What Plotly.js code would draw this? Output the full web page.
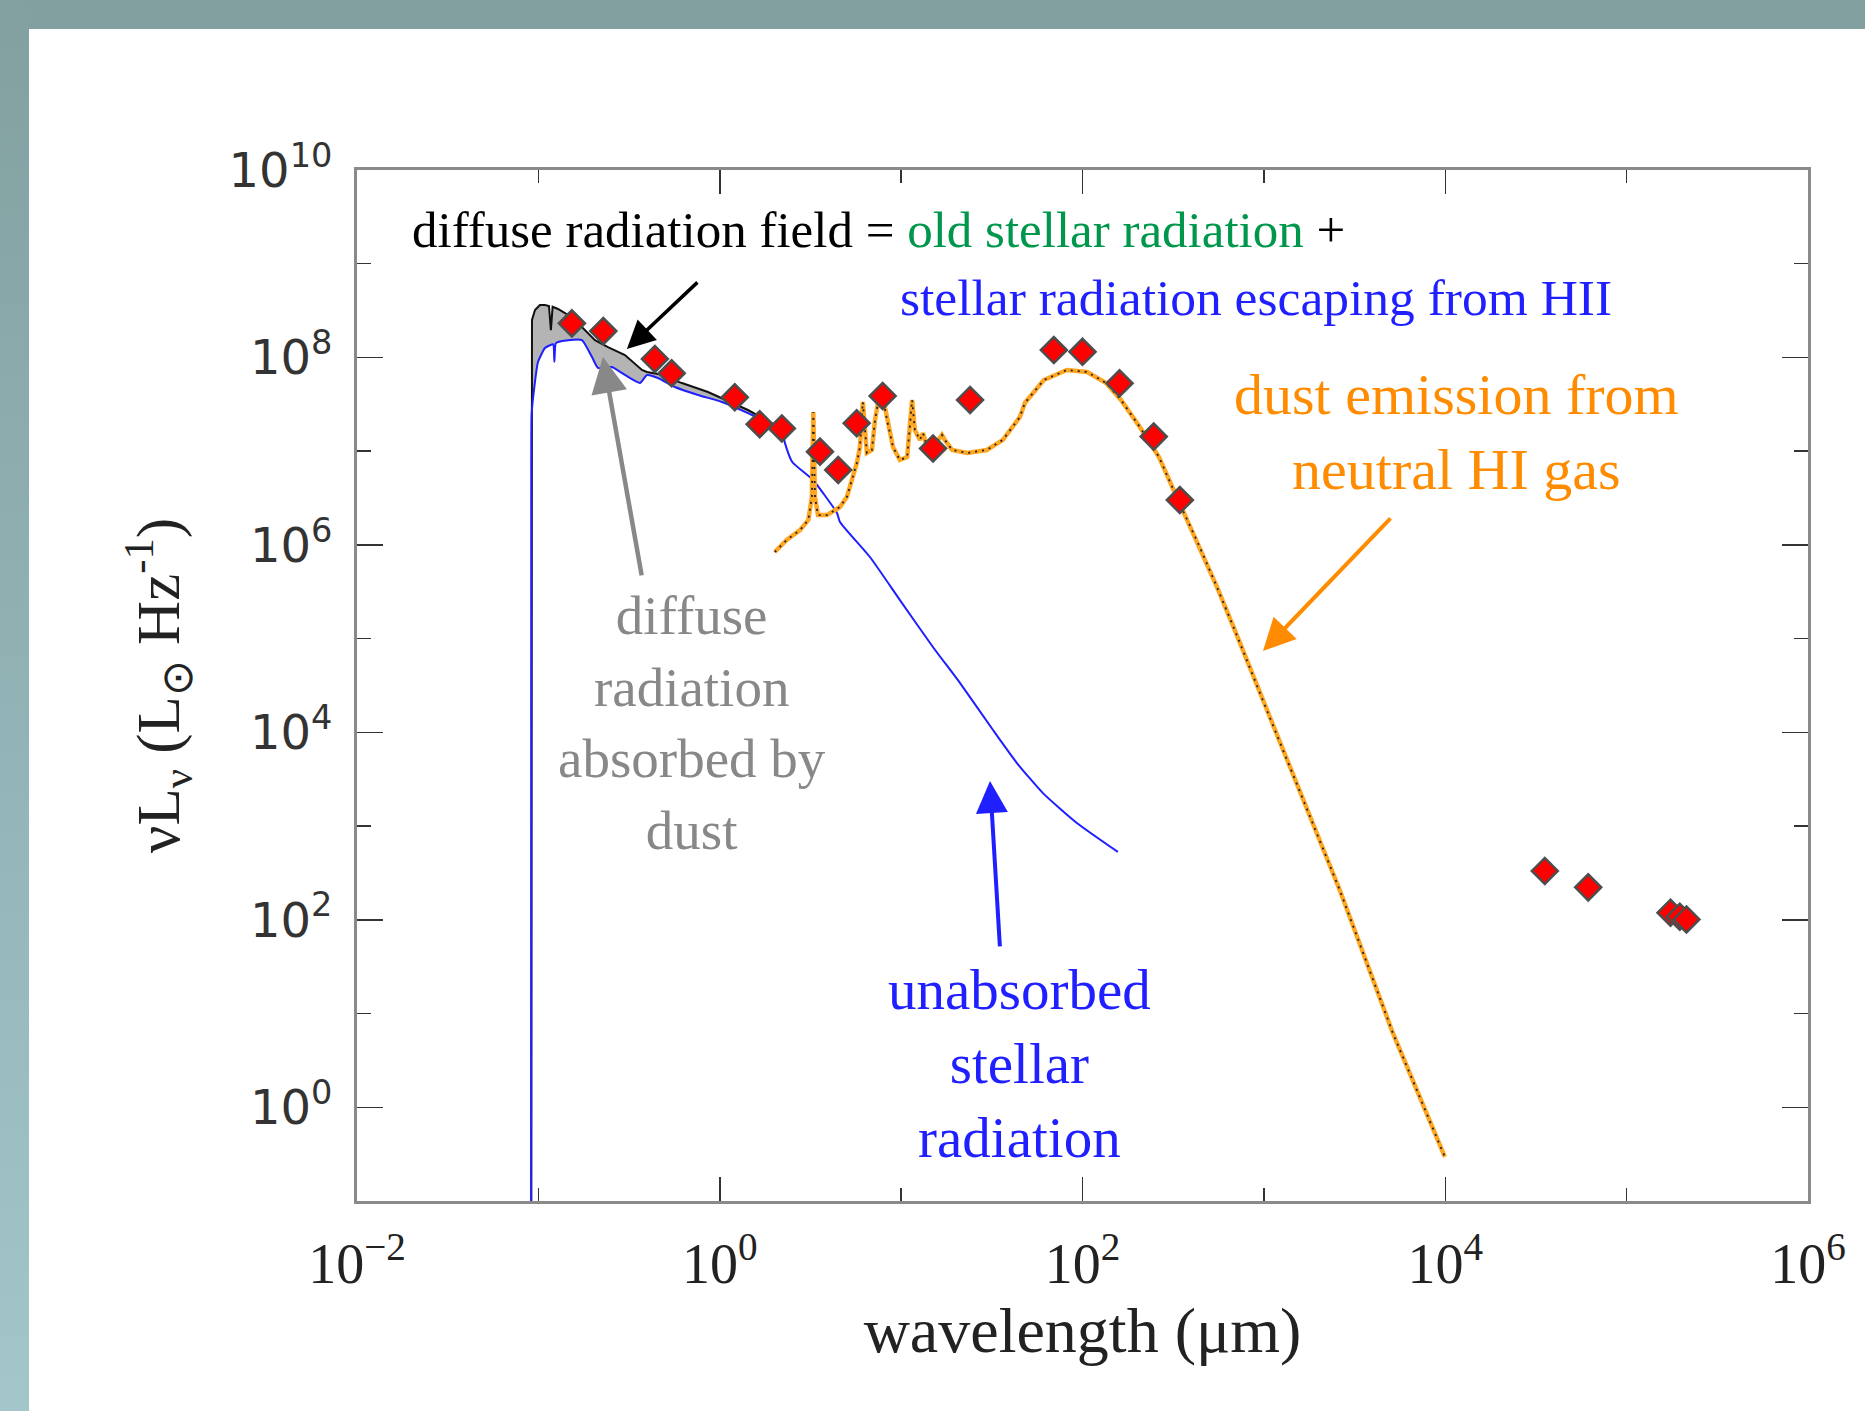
<!DOCTYPE html>
<html>
<head>
<meta charset="utf-8">
<script src="https://cdn.plot.ly/plotly-3.0.1.min.js"></script>
<style>
  html, body { margin: 0; padding: 0; background: #ffffff; }
  #wrap { position: relative; width: 1865px; height: 1411px; overflow: hidden; background: #ffffff; }
  #bandTop { position: absolute; left: 0; top: 0; width: 1865px; height: 29px; background: #82a0a0; }
  #bandLeft { position: absolute; left: 0; top: 0; width: 29px; height: 1411px;
              background: linear-gradient(#82a0a0, #a2c6ca); }
  #chart { position: absolute; left: 0; top: 0; width: 1865px; height: 1411px; }
</style>
</head>
<body>
<div id="wrap">
  <div id="bandTop"></div>
  <div id="bandLeft"></div>
  <div id="chart"></div>
</div>
<script>
// ---- unabsorbed stellar radiation (blue) ----
const wlBlue = [0.0912, 0.0914, 0.0918, 0.0946, 0.0995, 0.1087, 0.1159, 0.1207, 0.1225, 0.1245,
  0.1283, 0.1456, 0.1739, 0.1975, 0.2131, 0.2545, 0.3001, 0.3632, 0.3970, 0.4564,
  0.5662, 0.7585, 1.028, 1.430, 1.844, 2.203, 2.288, 2.51, 3.265, 4.43,
  4.60, 6.73, 9.85, 14.97, 21.1, 32.1, 43.5, 60.5, 93.1, 156.7];
const lumBlue = [1e-3, 3.2e6, 2.5e7, 4.50e7, 8.95e7, 1.26e8, 1.35e8, 1.38e8, 9.0e7, 1.41e8,
  1.46e8, 1.53e8, 1.53e8, 1.01e8, 7.73e7, 7.91e7, 6.50e7, 5.33e7, 6.50e7, 6.04e7,
  4.84e7, 3.98e7, 3.35e7, 2.55e7, 2.00e7, 1.68e7, 1.22e7, 7.67e6, 4.93e6, 2.19e6,
  1.76e6, 7.43e5, 2.58e5, 8.15e4, 3.37e4, 1.06e4, 4.71e3, 2.25e3, 1.08e3, 530];

// ---- total stellar radiation incl. diffuse field (black outline of gray area) ----
const wlTotal = [0.0912, 0.0915, 0.0922, 0.0958, 0.1020, 0.1087, 0.1144, 0.1172, 0.1198, 0.1283,
  0.1402, 0.1591, 0.1739, 0.2051, 0.2419, 0.3001, 0.3725, 0.3970, 0.4564, 0.6187,
  0.8608, 1.028, 1.430, 1.844, 2.203];
const lumTotal = [1e-3, 3.0e7, 2.51e8, 3.21e8, 3.63e8, 3.63e8, 3.54e8, 1.95e8, 3.47e8, 3.29e8,
  2.98e8, 2.51e8, 2.11e8, 1.53e8, 1.29e8, 1.06e8, 7.35e7, 7.0e7, 6.67e7, 5.33e7,
  4.28e7, 3.69e7, 2.75e7, 2.10e7, 1.68e7];

// ---- dust emission from neutral HI gas (orange) ----
const wlDust = [2.01, 2.34, 2.77, 3.08, 3.22, 3.28, 3.35, 3.48, 3.90, 4.60,
  5.02, 5.36, 5.70, 5.93, 6.15, 6.47, 6.90, 7.18, 7.45, 7.83,
  8.36, 9.02, 9.84, 10.8, 11.2, 11.5, 11.9, 12.7, 13.2, 13.9,
  14.8, 15.7, 16.8, 17.4, 19.1, 23.1, 29.7, 36.4, 45.2, 48.1,
  61.2, 82.0, 106, 135, 163, 207, 264, 336, 433, 551,
  701, 986, 2620, 5140, 9950];
const lumDust = [8.40e5, 1.13e6, 1.44e6, 1.85e6, 3.24e6, 2.62e7, 3.24e6, 2.08e6, 2.08e6, 2.54e6,
  3.24e6, 4.93e6, 7.48e6, 1.11e7, 3.35e7, 9.57e6, 1.03e7, 2.15e7, 3.27e7, 4.28e7,
  2.15e7, 1.11e7, 8.05e6, 8.67e6, 2.00e7, 3.52e7, 1.68e7, 1.32e7, 1.56e7, 1.11e7,
  9.57e6, 1.25e7, 1.49e7, 1.32e7, 1.03e7, 9.57e6, 1.03e7, 1.32e7, 2.32e7, 3.27e7,
  5.75e7, 7.35e7, 7.00e7, 5.33e7, 3.52e7, 1.81e7, 8.67e6, 3.01e6, 1.05e6, 3.56e5,
  1.15e5, 2.21e4, 208, 6.21, 0.295];

// ---- observed photometry (red diamonds) ----
const wlObs = [0.153, 0.228, 0.439, 0.543, 1.21, 1.66, 2.20, 3.57, 4.50, 5.69,
  7.91, 15.0, 24.0, 69.5, 100, 160, 247, 344, 35400, 61400, 174600, 196400, 213800];
const lumObs = [2.31e8, 1.91e8, 9.64e7, 6.78e7, 3.76e7, 1.94e7, 1.75e7, 9.89e6, 6.30e6, 1.99e7,
  3.88e7, 1.07e7, 3.52e7, 1.20e8, 1.15e8, 5.30e7, 1.43e7, 3.01e6, 332, 222, 119, 108, 101];

// ---- axis ticks ----
const xMajorVals = [0.01, 1, 100, 1e4, 1e6];
const xMajorText = ['10<sup>\u22122</sup>', '10<sup>0</sup>', '10<sup>2</sup>', '10<sup>4</sup>', '10<sup>6</sup>'];
const xMinorVals = [0.1, 10, 1000, 1e5];
const yMajorVals = [1, 100, 1e4, 1e6, 1e8, 1e10];
const yMajorText = ['10<sup>0</sup>', '10<sup>2</sup>', '10<sup>4</sup>', '10<sup>6</sup>', '10<sup>8</sup>', '10<sup>10</sup>'];
const yMinorVals = [10, 1000, 1e5, 1e7, 1e9];

// gray absorbed region: between total curve and the unabsorbed curve
const wlMax = wlTotal[wlTotal.length - 1];
const blueIdx = wlBlue.map((w, i) => i).filter(i => wlBlue[i] <= wlMax).reverse();
const fillX = wlTotal.concat(blueIdx.map(i => wlBlue[i]));
const fillY = lumTotal.concat(blueIdx.map(i => lumBlue[i]));

const serif = 'Liberation Serif, Times New Roman, serif';
const BLUE = '#1f1fff';
const ORANGE = '#ff8c00';
const GRAY = '#888888';
const GREEN = '#00964b';

const traces = [
  { x: fillX, y: fillY, mode: 'lines', fill: 'toself', fillcolor: '#b4b4b4',
    line: { width: 0, color: 'rgba(0,0,0,0)' }, hoverinfo: 'skip', showlegend: false },
  { x: wlTotal, y: lumTotal, mode: 'lines', line: { color: '#111111', width: 2 }, showlegend: false,
    name: 'diffuse + unabsorbed' },
  { x: wlBlue, y: lumBlue, mode: 'lines', line: { color: BLUE, width: 2, shape: 'spline', smoothing: 0.5 },
    showlegend: false, name: 'unabsorbed stellar radiation' },
  { x: wlDust, y: lumDust, mode: 'lines', line: { color: '#ffa722', width: 4.5 }, showlegend: false,
    name: 'dust emission' },
  { x: wlDust, y: lumDust, mode: 'lines', line: { color: '#222222', width: 1.8, dash: '2px,5px' },
    showlegend: false, hoverinfo: 'skip' },
  { x: wlObs, y: lumObs, mode: 'markers', showlegend: false, name: 'observed',
    marker: { symbol: 'diamond', size: 20, color: '#ff0000', line: { color: '#4d4d4d', width: 2.5 } } }
];

function arrow(x, y, ax, ay, color, width) {
  return { x: x, y: y, ax: ax, ay: ay, xref: 'x', yref: 'y', axref: 'x', ayref: 'y',
    text: '', showarrow: true, arrowhead: 2, arrowsize: 1.6, arrowwidth: width,
    arrowcolor: color, standoff: 0, startstandoff: 0 };
}

const annotations = [
  { x: -1.708, y: 9.36, xref: 'x', yref: 'y', xanchor: 'left', yanchor: 'middle', showarrow: false,
    text: 'diffuse radiation field = <span style="color:' + GREEN + '">old stellar radiation</span> +',
    font: { family: serif, size: 51, color: '#000000' } },
  { x: 0.982, y: 8.645, xref: 'x', yref: 'y', xanchor: 'left', yanchor: 'middle', showarrow: false,
    text: 'stellar radiation escaping from HII',
    font: { family: serif, size: 51.5, color: BLUE } },
  { x: 4.064, y: 7.205, xref: 'x', yref: 'y', xanchor: 'center', yanchor: 'middle', showarrow: false,
    text: 'dust emission from<br>neutral HI gas', align: 'center',
    font: { family: serif, size: 58, color: ORANGE } },
  { x: -0.153, y: 4.10, xref: 'x', yref: 'y', xanchor: 'center', yanchor: 'middle', showarrow: false,
    text: 'diffuse<br>radiation<br>absorbed by<br>dust', align: 'center',
    font: { family: serif, size: 55, color: GRAY } },
  { x: 1.655, y: 0.47, xref: 'x', yref: 'y', xanchor: 'center', yanchor: 'middle', showarrow: false,
    text: 'unabsorbed<br>stellar<br>radiation', align: 'center',
    font: { family: serif, size: 57, color: BLUE } },
  arrow(-0.512, 8.09, -0.115, 8.816, '#000000', 3.5),
  arrow(-0.644, 8.005, -0.429, 5.658, GRAY, 4.5),
  arrow(2.995, 4.868, 3.706, 6.298, ORANGE, 4),
  arrow(1.490, 3.481, 1.545, 1.70, BLUE, 4)
];

const layout = {
  width: 1865, height: 1411,
  paper_bgcolor: 'rgba(0,0,0,0)', plot_bgcolor: '#ffffff',
  margin: { l: 357, r: 57, t: 170, b: 210, pad: 0 },
  showlegend: false,
  xaxis: {
    type: 'log', range: [-2, 6], automargin: false,
    showgrid: false, zeroline: false,
    showline: true, linecolor: '#8a8a8a', linewidth: 3, mirror: 'ticks',
    ticks: 'inside', ticklen: 24, tickwidth: 1.5, tickcolor: '#333333',
    tickmode: 'array', tickvals: xMajorVals, ticktext: xMajorText,
    ticklabelstandoff: 12,
    tickfont: { family: serif, size: 56, color: '#222222' },
    minor: { tickmode: 'array', tickvals: xMinorVals, ticks: 'inside', ticklen: 13, tickwidth: 1.5,
             tickcolor: '#333333', showgrid: false },
    title: { text: 'wavelength (\u03bcm)', standoff: 10,
             font: { family: serif, size: 64, color: '#222222' } }
  },
  yaxis: {
    type: 'log', range: [-1, 10], automargin: false,
    showgrid: false, zeroline: false,
    showline: true, linecolor: '#8a8a8a', linewidth: 3, mirror: 'ticks',
    ticks: 'inside', ticklen: 26, tickwidth: 1.5, tickcolor: '#333333',
    tickmode: 'array', tickvals: yMajorVals, ticktext: yMajorText,
    ticklabelstandoff: 12,
    tickfont: { family: 'DejaVu Sans, sans-serif', size: 48, color: '#333333' },
    minor: { tickmode: 'array', tickvals: yMinorVals, ticks: 'inside', ticklen: 14, tickwidth: 1.5,
             tickcolor: '#333333', showgrid: false },
    title: { text: '\u03bdL<sub>\u03bd</sub> (L<sub>\u2299</sub> Hz<sup>-1</sup>)', standoff: 30,
             font: { family: serif, size: 61, color: '#222222' } }
  },
  annotations: annotations
};

Plotly.newPlot('chart', traces, layout, { displayModeBar: false, staticPlot: true });
</script>
</body>
</html>
